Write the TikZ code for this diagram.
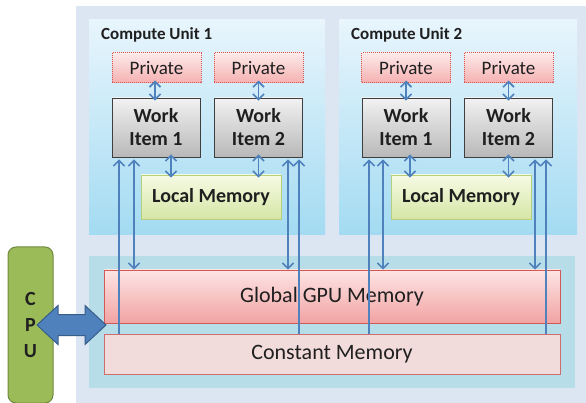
\documentclass[tikz,border=0pt]{standalone}
\usepackage{fontspec}
\setmainfont{Carlito}
\usepackage{tikz}
\usetikzlibrary{arrows,arrows.meta}

\definecolor{gpubg}{HTML}{DCE6F2}
\definecolor{unittop}{HTML}{E8F5FC}
\definecolor{unitbot}{HTML}{A3DBF2}
\definecolor{membg}{HTML}{B7DDE8}
\definecolor{globtop}{HTML}{FDE4E4}
\definecolor{globbot}{HTML}{F2A3A3}
\definecolor{globedge}{HTML}{D05A58}
\definecolor{constfill}{HTML}{F2DCDB}
\definecolor{constedge}{HTML}{CC6E6C}
\definecolor{privtop}{HTML}{FDEAEA}
\definecolor{privbot}{HTML}{F5B0B0}
\definecolor{privedge}{HTML}{D9534F}
\definecolor{itemtop}{HTML}{F2F2F2}
\definecolor{itembot}{HTML}{B8B8B8}
\definecolor{itemedge}{HTML}{3F3F3F}
\definecolor{localtop}{HTML}{F6FAE4}
\definecolor{localbot}{HTML}{D6E6A6}
\definecolor{localedge}{HTML}{B5CF7A}
\definecolor{cpufill}{HTML}{9BBB59}
\definecolor{cpuedge}{HTML}{71893F}
\definecolor{busfill}{HTML}{4F81BD}
\definecolor{busedge}{HTML}{385D8A}
\definecolor{inktext}{HTML}{1F1F1F}

\begin{document}
\begin{tikzpicture}[x=1pt,y=-1pt]
        \tikzset{panel/.style = {inner sep=0pt, draw=none}}
        \tikzset{unit/.style = {panel, minimum height=215, top color=unittop, bottom color=unitbot}}
        \tikzset{title/.style = {inner sep=0pt, anchor=west, text=inktext, font=\fontsize{17}{20}\selectfont\bfseries}}
        \tikzset{private/.style = {inner sep=0pt, minimum width=89, minimum height=30, draw=privedge, densely dotted, line width=1pt, top color=privtop, bottom color=privbot, text=inktext, font=\fontsize{19}{21}\selectfont}}
        \tikzset{item/.style = {inner sep=0pt, minimum width=88, minimum height=59, draw=itemedge, line width=0.8pt, top color=itemtop, bottom color=itembot, align=center, text=inktext, font=\fontsize{20}{23}\selectfont\bfseries}}
        \tikzset{local/.style = {inner sep=0pt, minimum width=140, minimum height=44, draw=localedge, line width=0.8pt, top color=localtop, bottom color=localbot, text=inktext, font=\fontsize{20}{22}\selectfont\bfseries}}
        \tikzset{memory/.style = {inner sep=0pt, minimum width=456, line width=0.8pt, text=inktext, font=\fontsize{22}{25}\selectfont}}
        \tikzset{edge/.style = {draw=busfill, line width=1.6pt, > = {Straight Barb[length=5.5pt, width=11pt]}}}
        \tikzset{hop/.style = {edge, <->, shorten <=-3pt, shorten >=-3pt}}
        \useasboundingbox (0,0) rectangle (586,403);

        % panels
        \node[panel, fill=gpubg, minimum width=510, minimum height=397] (gpu) at (331,204.5) {};
        \node[unit, minimum width=236] (cu1) at (207,127.5) {};
        \node[unit, minimum width=238] (cu2) at (458,127.5) {};
        \node[panel, fill=membg, minimum width=486, minimum height=132] (mem) at (332,322) {};

        % memories
        \node[memory, minimum height=53, draw=globedge, top color=globtop, bottom color=globbot] (gm) at (332,296.5) {Global GPU Memory};
        \node[memory, minimum height=40, draw=constedge, fill=constfill] (cm) at (332,354) {Constant Memory};

        % compute unit 1
        \node[title] (t1) at (101,35) {Compute Unit 1};
        \node[private] (p11) at (156.5,68) {Private};
        \node[private] (p12) at (258.5,68) {Private};
        \node[item] (w11) at (156,127.5) {Work\\Item 1};
        \node[item] (w12) at (258.5,127.5) {Work\\Item 2};
        \node[local] (l1) at (211,197) {Local Memory};

        % compute unit 2
        \node[title] (t2) at (351,35) {Compute Unit 2};
        \node[private] (p21) at (406,68) {Private};
        \node[private] (p22) at (508.5,68) {Private};
        \node[item] (w21) at (406,127.5) {Work\\Item 1};
        \node[item] (w22) at (508.5,127.5) {Work\\Item 2};
        \node[local] (l2) at (461,197) {Local Memory};

        % host
        \node[inner sep=0pt, minimum width=45, minimum height=156, rounded corners=8pt, draw=cpuedge, line width=1pt, fill=cpufill, align=center, text=inktext, font=\fontsize{20}{26}\selectfont\bfseries] (cpu) at (30.5,325) {C\\P\\U};
        \draw[fill=busfill, draw=busedge, line width=1pt, line join=miter]
            (37,325) -- (58,305.5) -- (58,314.5) -- (85,314.5) -- (85,305.5) -- (106,325)
            -- (85,344.5) -- (85,335.5) -- (58,335.5) -- (58,344.5) -- cycle;

        %edges
        \draw[hop] ([xshift=-1.5]p11.south) -- ([xshift=-1]w11.north);
        \draw[hop] (p12.south) -- (w12.north);
        \draw[hop] ([xshift=15]w11.south) -- ([xshift=15]w11.south |- l1.north);
        \draw[hop] (w12.south) -- (w12.south |- l1.north);

        \draw[hop] (p21.south) -- (w21.north);
        \draw[hop] (p22.south) -- (w22.north);
        \draw[hop] ([xshift=4]w21.south) -- ([xshift=4]w21.south |- l2.north);
        \draw[hop] (w22.south) -- (w22.south |- l2.north);

        \draw[edge, ->, shorten >=2pt] ([xshift=-37]w11.south |- cm.north) -- ([xshift=-37]w11.south);
        \draw[edge, <->, shorten >=2pt] ([xshift=-22]w11.south |- gm.north) -- ([xshift=-22]w11.south);
        \draw[edge, <->, shorten >=2pt] ([xshift=29.5]w12.south |- gm.north) -- ([xshift=29.5]w12.south);
        \draw[edge, ->, shorten >=2pt] ([xshift=40.5]w12.south |- cm.north) -- ([xshift=40.5]w12.south);

        \draw[edge, ->, shorten >=2pt] ([xshift=-37]w21.south |- cm.north) -- ([xshift=-37]w21.south);
        \draw[edge, <->, shorten >=2pt] ([xshift=-23]w21.south |- gm.north) -- ([xshift=-23]w21.south);
        \draw[edge, <->, shorten >=2pt] ([xshift=26.5]w22.south |- gm.north) -- ([xshift=26.5]w22.south);
        \draw[edge, ->, shorten >=2pt] ([xshift=37.5]w22.south |- cm.north) -- ([xshift=37.5]w22.south);
\end{tikzpicture}
\end{document}
